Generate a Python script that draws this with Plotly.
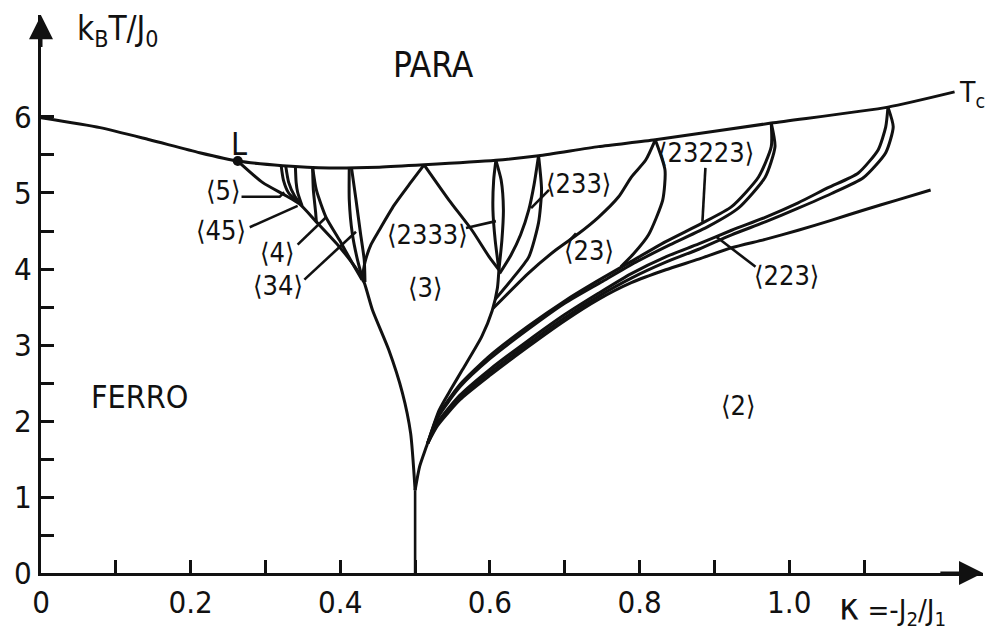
import plotly.graph_objects as go

FONT = "DejaVu Sans Condensed, DejaVu Sans, sans-serif"
INK = "#111111"

# Phase boundaries of the ANNNI model, points given as (kappa, kB*T/J0)
para_boundary = [(0.000, 5.99), (0.079, 5.86), (0.145, 5.70), (0.212, 5.53), (0.263, 5.42),
                 (0.323, 5.36), (0.385, 5.33), (0.452, 5.34), (0.512, 5.37), (0.608, 5.43),
                 (0.665, 5.49), (0.745, 5.61), (0.821, 5.70), (0.976, 5.92), (1.132, 6.13),
                 (1.221, 6.33)]
ferro_boundary = [(0.263, 5.42), (0.296, 5.14), (0.345, 4.86), (0.368, 4.62), (0.399, 4.29),
                  (0.425, 3.95), (0.432, 3.82), (0.443, 3.46), (0.465, 2.93), (0.483, 2.37),
                  (0.494, 1.84), (0.500, 1.09)]
multiphase_line = [(0.500, 1.09), (0.500, 0.00)]
phase3_right = [(0.500, 1.09), (0.506, 1.40), (0.515, 1.66), (0.532, 2.14), (0.548, 2.42),
                (0.563, 2.67), (0.589, 3.11), (0.603, 3.45), (0.610, 3.75), (0.612, 3.99)]

# short boundaries close to the Lifshitz point
near_l_1 = [(0.321, 5.36), (0.324, 5.17), (0.331, 5.00), (0.345, 4.87)]
near_l_2 = [(0.327, 5.36), (0.331, 5.14), (0.339, 4.96), (0.348, 4.84)]
near_l_3 = [(0.340, 5.35), (0.341, 5.14), (0.343, 5.01), (0.349, 4.83)]
phase4_left = [(0.363, 5.34), (0.364, 5.04), (0.367, 4.75), (0.368, 4.62)]
phase4_right = [(0.363, 5.34), (0.368, 5.04), (0.381, 4.68), (0.399, 4.38), (0.416, 4.08),
                (0.429, 3.86)]
phase34_left = [(0.412, 5.33), (0.412, 4.91), (0.416, 4.47), (0.423, 4.12), (0.431, 3.83)]
phase34_right = [(0.415, 5.33), (0.421, 4.91), (0.427, 4.47), (0.432, 4.12), (0.433, 3.83)]

# <2333> wedge and the boundaries around kappa ~ 0.6
phase2333_left = [(0.429, 3.86), (0.433, 4.09), (0.441, 4.32), (0.452, 4.51), (0.472, 4.84),
                  (0.492, 5.11), (0.512, 5.37)]
phase2333_right = [(0.512, 5.37), (0.545, 4.91), (0.576, 4.51), (0.599, 4.16), (0.612, 3.99)]
lens_a = [(0.612, 3.99), (0.607, 4.38), (0.604, 4.78), (0.605, 5.17), (0.608, 5.43)]
lens_b = [(0.612, 3.99), (0.616, 4.38), (0.618, 4.78), (0.615, 5.17), (0.608, 5.43)]
phase233_left = [(0.665, 5.49), (0.659, 5.11), (0.652, 4.78), (0.641, 4.45), (0.628, 4.18),
                 (0.613, 3.94)]
phase233_right = [(0.665, 5.49), (0.669, 5.04), (0.665, 4.61), (0.652, 4.16), (0.629, 3.86),
                  (0.607, 3.60)]
phase23_left = [(0.604, 3.48), (0.652, 3.95), (0.688, 4.25), (0.719, 4.47), (0.745, 4.68),
                (0.772, 4.95), (0.789, 5.21), (0.808, 5.43), (0.821, 5.70)]
phase23_right = [(0.821, 5.70), (0.834, 5.30), (0.831, 4.91), (0.812, 4.45), (0.792, 4.20),
                 (0.775, 4.03)]

# fan of boundaries opening towards large kappa
fan_q1 = [(0.517, 1.71), (0.530, 2.06), (0.560, 2.48), (0.600, 2.86), (0.650, 3.24),
          (0.700, 3.58), (0.745, 3.85), (0.789, 4.10), (0.835, 4.36), (0.883, 4.60),
          (0.923, 4.82), (0.959, 5.21), (0.976, 5.61), (0.976, 5.92)]
fan_q2 = [(0.517, 1.71), (0.530, 2.04), (0.560, 2.45), (0.600, 2.82), (0.650, 3.20),
          (0.700, 3.55), (0.749, 3.83), (0.795, 4.09), (0.841, 4.32), (0.892, 4.56),
          (0.932, 4.80), (0.968, 5.21), (0.981, 5.61), (0.976, 5.92)]
fan_r1 = [(0.517, 1.71), (0.530, 1.98), (0.560, 2.34), (0.600, 2.68), (0.650, 3.05),
          (0.700, 3.40), (0.745, 3.68), (0.789, 3.94), (0.835, 4.16), (0.879, 4.33),
          (0.923, 4.51), (0.968, 4.68), (1.012, 4.87), (1.052, 5.07), (1.092, 5.26),
          (1.119, 5.57), (1.129, 5.87), (1.132, 6.13)]
fan_r2 = [(0.517, 1.71), (0.530, 1.96), (0.560, 2.31), (0.600, 2.64), (0.650, 3.01),
          (0.700, 3.36), (0.745, 3.64), (0.789, 3.88), (0.835, 4.09), (0.879, 4.26),
          (0.923, 4.45), (0.968, 4.62), (1.012, 4.80), (1.056, 4.99), (1.099, 5.20),
          (1.129, 5.53), (1.139, 5.87), (1.132, 6.13)]
fan_s = [(0.517, 1.71), (0.530, 1.94), (0.560, 2.28), (0.600, 2.60), (0.650, 2.97),
         (0.700, 3.32), (0.745, 3.60), (0.789, 3.82), (0.835, 3.99), (0.879, 4.13),
         (0.923, 4.28), (0.968, 4.39), (1.012, 4.51), (1.056, 4.64), (1.101, 4.78),
         (1.145, 4.91), (1.189, 5.04)]

# leader lines from phase names to their regions
leader_5 = [(0.268, 4.95), (0.319, 4.95), (0.325, 5.01)]
leader_45 = [(0.279, 4.55), (0.343, 4.83)]
leader_4 = [(0.343, 4.32), (0.381, 4.68)]
leader_34 = [(0.352, 3.86), (0.421, 4.49)]
leader_2333 = [(0.568, 4.54), (0.608, 4.63)]
leader_233 = [(0.679, 5.04), (0.655, 4.80)]
leader_23 = [(0.707, 4.38), (0.715, 4.47)]
leader_23223 = [(0.888, 5.33), (0.884, 4.62)]
leader_223 = [(0.903, 4.42), (0.955, 4.03)]

lifshitz_point = (0.263, 5.42)

phase_names = ["⟨5⟩", "⟨45⟩", "⟨4⟩", "⟨34⟩", "⟨2333⟩", "⟨3⟩", "⟨233⟩", "⟨23⟩",
               "⟨23223⟩", "⟨223⟩", "⟨2⟩"]

x_major = [0, 0.2, 0.4, 0.6, 0.8, 1.0]
x_major_text = ["0", "0.2", "0.4", "0.6", "0.8", "1.0"]
x_minor = [0.1, 0.3, 0.5, 0.7, 0.9, 1.1]
y_major = [0, 1, 2, 3, 4, 5, 6]
y_major_text = ["0", "1", "2", "3", "4", "5", "6"]
y_minor = [0.5, 1.5, 2.5, 3.5, 4.5, 5.5]

curved = [para_boundary, ferro_boundary, phase3_right, near_l_1, near_l_2, near_l_3,
          phase4_left, phase4_right, phase34_left, phase34_right, phase2333_left,
          phase2333_right, lens_a, lens_b, phase233_left, phase233_right, phase23_left,
          phase23_right, fan_q1, fan_q2, fan_r1, fan_r2, fan_s]
straight = [multiphase_line, leader_5, leader_45, leader_4, leader_34, leader_2333,
            leader_233, leader_23, leader_23223, leader_223]

fig = go.Figure()
for pts in curved:
    fig.add_trace(go.Scatter(
        x=[p[0] for p in pts], y=[p[1] for p in pts], mode="lines",
        line=dict(color=INK, width=3, shape="spline", smoothing=0.6),
        hoverinfo="skip", showlegend=False))
for pts in straight:
    fig.add_trace(go.Scatter(
        x=[p[0] for p in pts], y=[p[1] for p in pts], mode="lines",
        line=dict(color=INK, width=2.6), hoverinfo="skip", showlegend=False))
fig.add_trace(go.Scatter(
    x=[lifshitz_point[0]], y=[lifshitz_point[1]], mode="markers",
    marker=dict(color=INK, size=10), hoverinfo="skip", showlegend=False))

name_spots = [(0.243, 5.03), (0.241, 4.51), (0.316, 4.22), (0.317, 3.78), (0.516, 4.45),
              (0.513, 3.76), (0.719, 5.13), (0.732, 4.25), (0.889, 5.53), (0.996, 3.92),
              (0.932, 2.21)]
for name, (kx, ty) in zip(phase_names, name_spots):
    fig.add_annotation(x=kx, y=ty, text=name, showarrow=False,
                       font=dict(family=FONT, size=27, color=INK))

big_labels = [("PARA", 0.524, 6.68, 35), ("FERRO", 0.132, 2.32, 32), ("L", 0.264, 5.64, 32)]
for text, kx, ty, size in big_labels:
    fig.add_annotation(x=kx, y=ty, text=text, showarrow=False,
                       font=dict(family=FONT, size=size, color=INK))

fig.add_annotation(x=1.224, y=6.30, text="T<sub>c</sub>", showarrow=False, xanchor="left",
                   font=dict(family=FONT, size=28, color=INK))
fig.add_annotation(x=0.046, y=7.14, text="k<sub>B</sub>T/J<sub>0</sub>", showarrow=False,
                   xanchor="left", font=dict(family=FONT, size=33, color=INK))
fig.add_annotation(xref="paper", yref="paper", x=0.845, y=-0.062, xanchor="left",
                   yanchor="middle",
                   text="<span style='font-size:38px'>κ</span> =-J<sub>2</sub>/J<sub>1</sub>",
                   showarrow=False, font=dict(family=FONT, size=29, color=INK))

# arrow heads at the ends of both axes
fig.add_annotation(x=1.259, y=0, ax=1.20, ay=0, axref="x", ayref="y", text="",
                   showarrow=True, arrowhead=2, arrowsize=1.6, arrowwidth=3, arrowcolor=INK)
fig.add_annotation(x=0, y=7.34, ax=0, ay=6.9, axref="x", ayref="y", text="",
                   showarrow=True, arrowhead=2, arrowsize=1.6, arrowwidth=3, arrowcolor=INK)

axis_common = dict(showgrid=False, zeroline=False, showline=True, linecolor=INK,
                   linewidth=3, ticks="inside", ticklen=13, tickwidth=3, tickcolor=INK,
                   tickfont=dict(family=FONT, size=31, color=INK))
fig.update_xaxes(range=[0, 1.259], tickmode="array", tickvals=x_major, ticktext=x_major_text,
                 minor=dict(tickmode="array", tickvals=x_minor, ticks="inside", ticklen=13,
                            tickwidth=3, tickcolor=INK),
                 **axis_common)
fig.update_yaxes(range=[0, 7.342], tickmode="array", tickvals=y_major, ticktext=y_major_text,
                 minor=dict(tickmode="array", tickvals=y_minor, ticks="inside", ticklen=13,
                            tickwidth=3, tickcolor=INK),
                 **axis_common)
fig.update_layout(width=989, height=638, margin=dict(l=41, r=6, t=15, b=65),
                  paper_bgcolor="white", plot_bgcolor="white")

fig.write_html("out.html")
